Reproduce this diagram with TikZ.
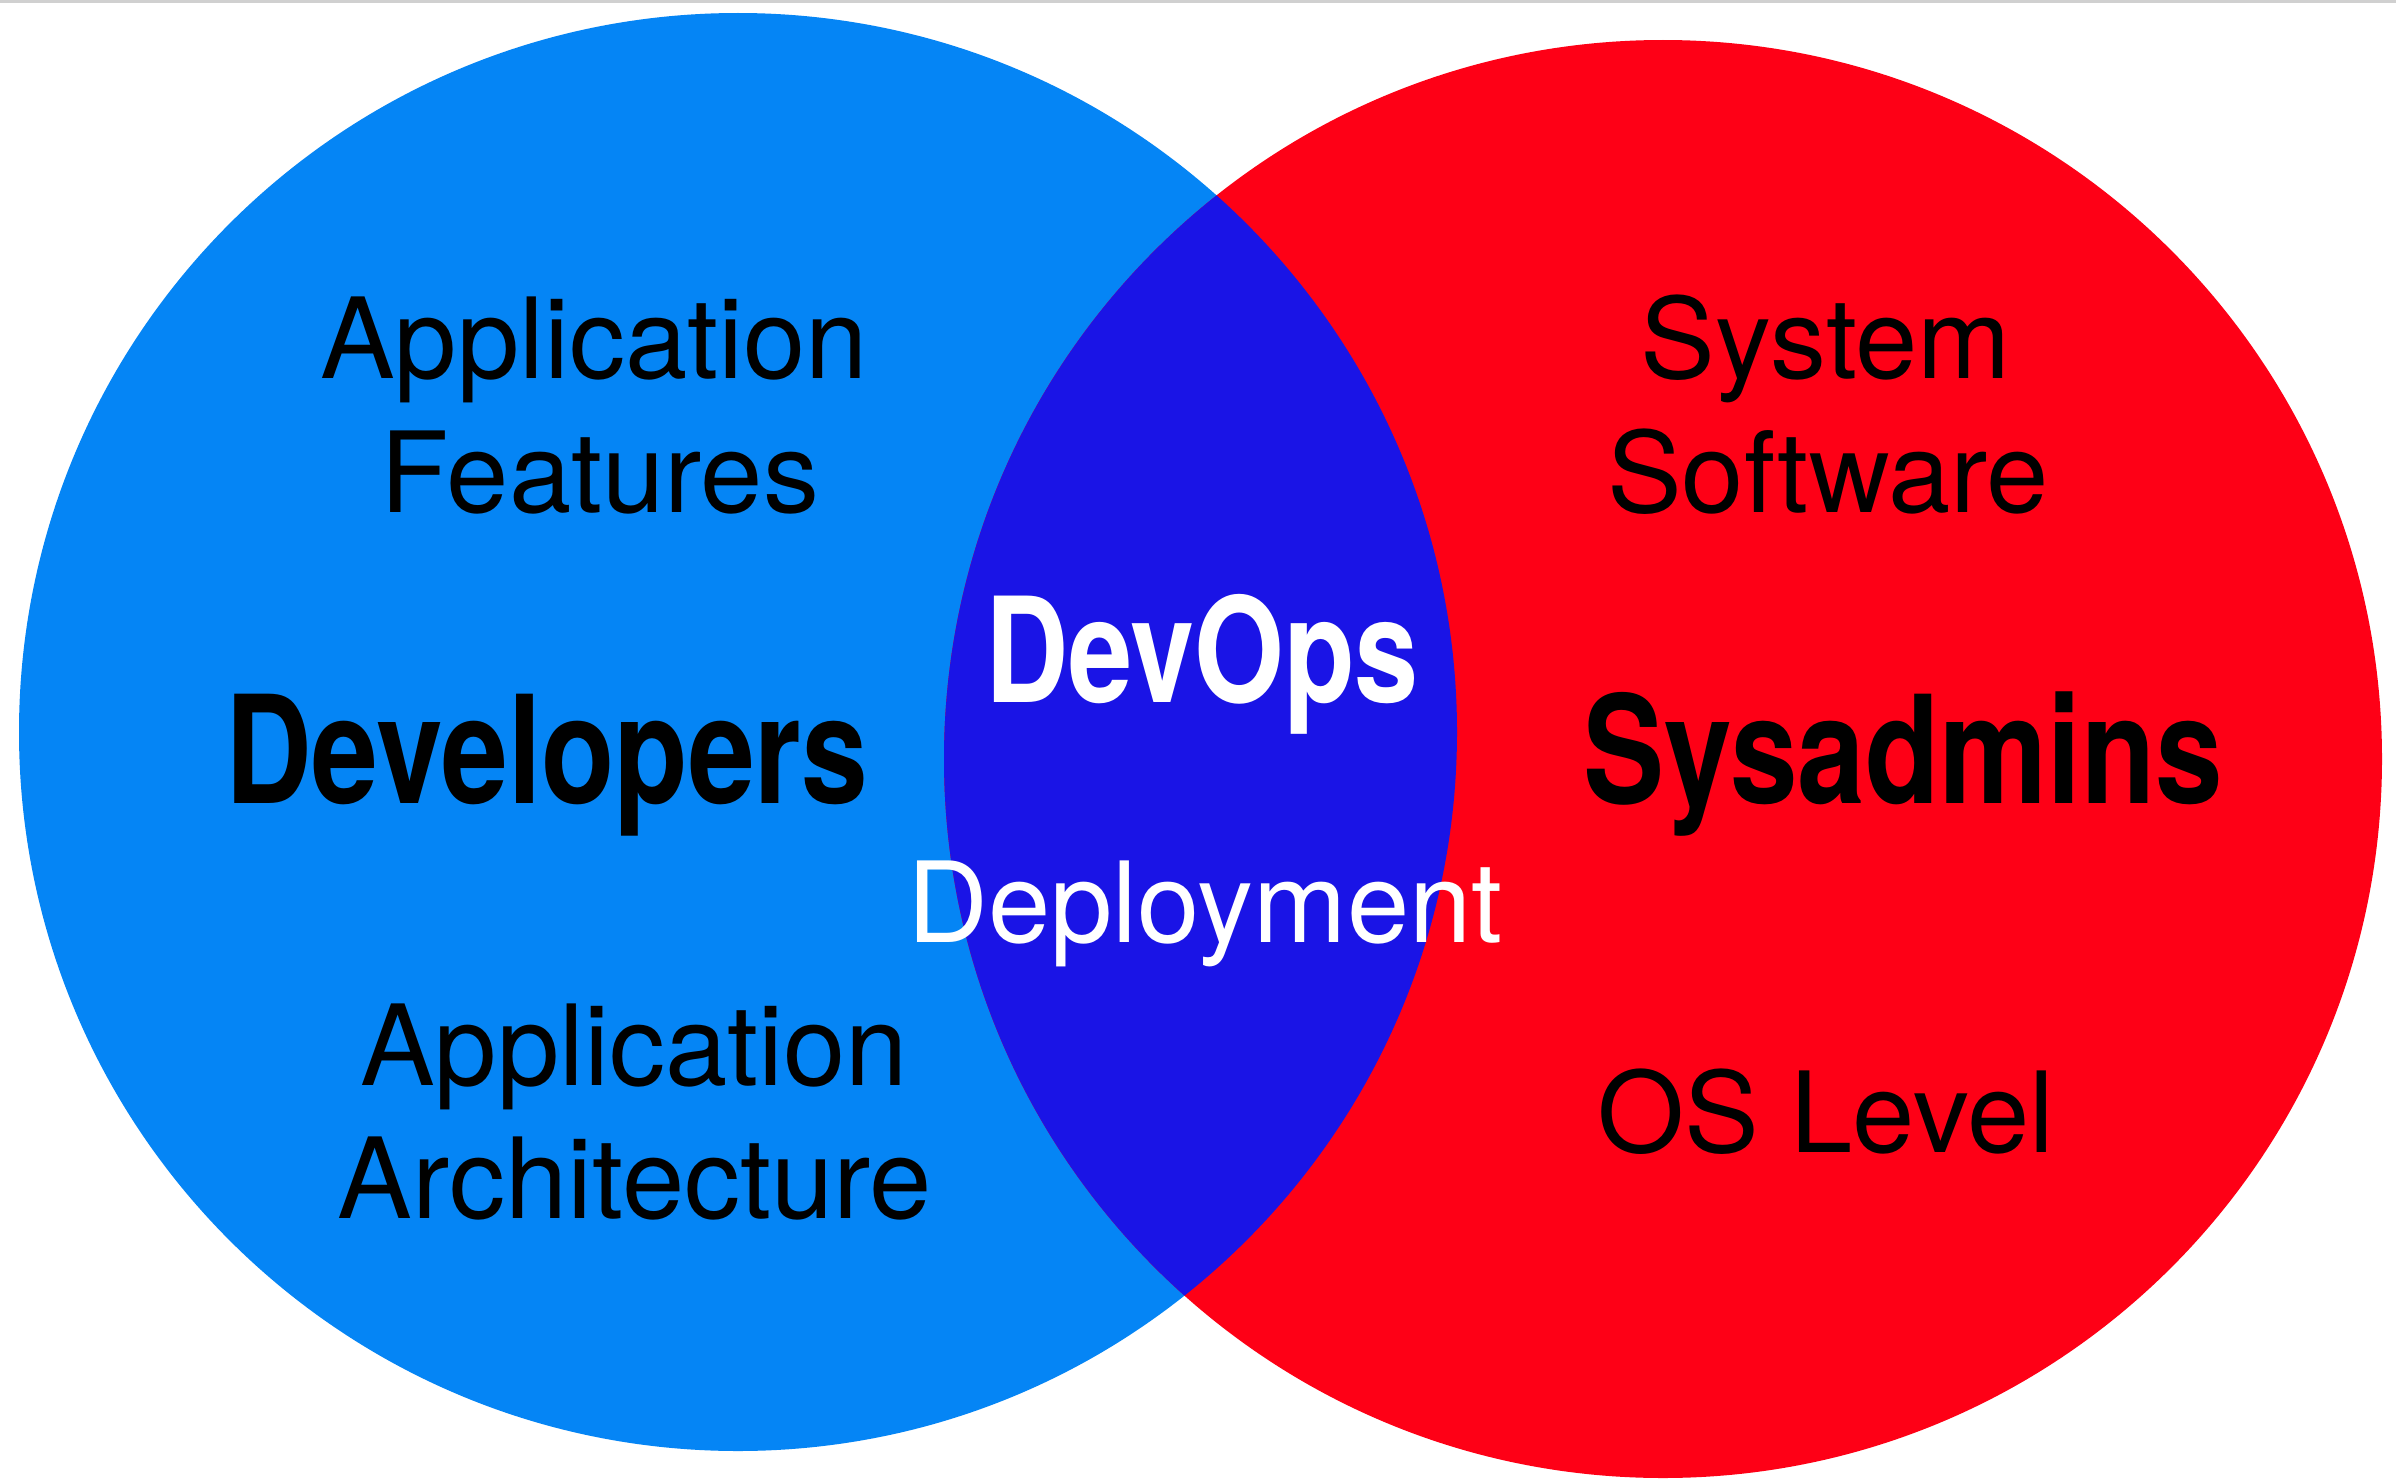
\documentclass[tikz,border=0pt]{standalone}
\usepackage{fontspec}
\setmainfont{TeX Gyre Heros}
\usepackage{graphicx}
\definecolor{devblue}{RGB}{5,133,245}
\definecolor{opsred}{RGB}{254,0,22}
\definecolor{lensblue}{RGB}{26,20,230}
\definecolor{topgrey}{RGB}{208,208,208}
\begin{document}
\begin{tikzpicture}[x=1pt,y=-1pt,
  txt/.style={inner sep=0pt, anchor=base, text=black, font=\fontsize{112}{134}\selectfont},
  boldtxt/.style={inner sep=0pt, anchor=base, text=black, font=\fontsize{150}{150}\selectfont\bfseries}]
\useasboundingbox (0,0) rectangle (2396,1480);
\fill[white] (0,0) rectangle (2396,1480);
\fill[topgrey] (0,0) rectangle (2396,3);
\coordinate (cdev) at (738,732);
\coordinate (cops) at (1663,759);
\fill[devblue] (cdev) circle[radius=719pt];
\fill[opsred] (cops) circle[radius=719pt];
\begin{scope}
  \clip (cdev) circle[radius=719pt];
  \fill[lensblue] (cops) circle[radius=719pt];
\end{scope}
\node[txt] (af1) at (594,378) {Application};
\node[txt] (af2) at (600,512) {Features};
\node[txt] (ss1) at (1826,378) {System};
\node[txt] (ss2) at (1828,512) {Software};
\node[boldtxt] (dev) at (547,803) {\scalebox{0.8}[1]{Developers}};
\node[boldtxt] (sys) at (1903,803) {\scalebox{0.81}[1]{Sysadmins}};
\node[boldtxt, text=white, font=\fontsize{146}{146}\selectfont\bfseries] (devops) at (1202,702) {\scalebox{0.79}[1]{DevOps}};
\node[txt, text=white] (depl) at (1205,942) {Deployment};
\node[txt] (aa1) at (634,1085) {Application};
\node[txt] (aa2) at (635,1218) {Architecture};
\node[txt] (os) at (1826,1152) {OS Level};
\end{tikzpicture}
\end{document}
